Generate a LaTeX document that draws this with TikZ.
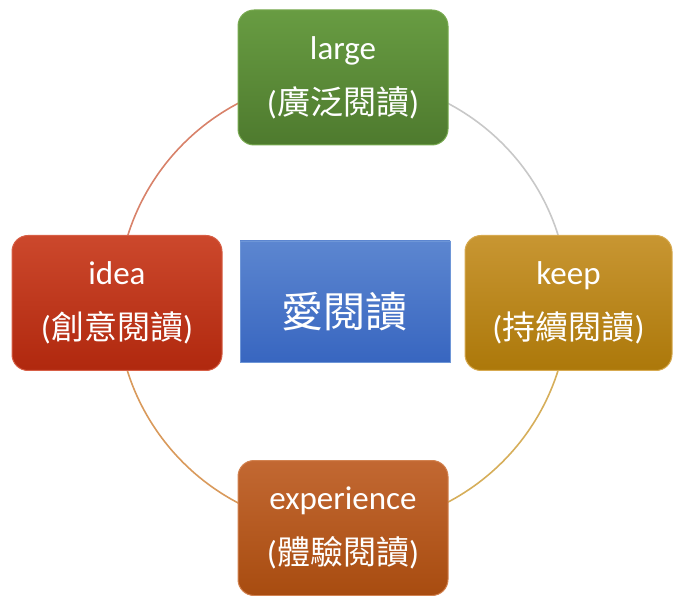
\documentclass[tikz,border=0pt]{standalone}
\usepackage{fontspec}
\setmainfont{Carlito}
\newfontfamily\cjk{Noto Sans CJK TC}
\usetikzlibrary{backgrounds}
\definecolor{arcA}{HTML}{D8826A}
\definecolor{arcB}{HTML}{C8C8C8}
\definecolor{arcC}{HTML}{D6AE5A}
\definecolor{arcD}{HTML}{D99A5C}
\definecolor{gTop}{RGB}{104,156,66}
\definecolor{gBot}{RGB}{78,122,46}
\definecolor{gRim}{RGB}{120,170,80}
\definecolor{rTop}{RGB}{204,72,44}
\definecolor{rBot}{RGB}{176,40,14}
\definecolor{rRim}{RGB}{215,95,70}
\definecolor{yTop}{RGB}{200,150,50}
\definecolor{yBot}{RGB}{172,120,10}
\definecolor{yRim}{RGB}{215,170,80}
\definecolor{oTop}{RGB}{194,104,50}
\definecolor{oBot}{RGB}{168,76,16}
\definecolor{oRim}{RGB}{210,130,80}
\definecolor{bTop}{RGB}{92,134,208}
\definecolor{bBot}{RGB}{56,102,192}
\definecolor{bRim}{RGB}{110,150,215}
\tikzset{
  x=1pt,y=1pt,
  card/.style={rounded corners=16pt, minimum width=210pt, minimum height=135pt,
     align=center, text=white, font=\fontsize{33}{55}\selectfont, inner sep=0pt, line width=1pt},
  ring/.style={line width=1.6pt},
}
\begin{document}
\begin{tikzpicture}
\useasboundingbox (0,0) rectangle (680,595);
\node[card, top color=gTop, bottom color=gBot, draw=gRim] (large) at (343,517.5) {large\\({\cjk 廣泛閱讀})};
\node[card, top color=rTop, bottom color=rBot, draw=rRim] (idea) at (117,292) {idea\\({\cjk 創意閱讀})};
\node[card, minimum width=207pt, top color=yTop, bottom color=yBot, draw=yRim] (keep) at (568.5,292) {keep\\({\cjk 持續閱讀})};
\node[card, top color=oTop, bottom color=oBot, draw=oRim] (exp) at (343,67) {experience\\({\cjk 體驗閱讀})};
\node[minimum width=210pt, minimum height=121pt, inner sep=0pt, top color=bTop, bottom color=bBot, draw=bRim, line width=0.8pt] (core) at (345,293.5) {};
\node[text=white, font=\fontsize{42}{50}\selectfont\cjk, inner sep=0pt] (coret) at (344,283) {愛閱讀};
\begin{scope}[on background layer]
\draw[ring, arcA] (large.center) arc[start angle=90, end angle=180, radius=225.5];
\draw[ring, arcB] (keep.center) arc[start angle=0, end angle=90, radius=225.5];
\draw[ring, arcC] (exp.center) arc[start angle=270, end angle=360, radius=225.5];
\draw[ring, arcD] (idea.center) arc[start angle=180, end angle=270, radius=225.5];
\end{scope}
\end{tikzpicture}
\end{document}
